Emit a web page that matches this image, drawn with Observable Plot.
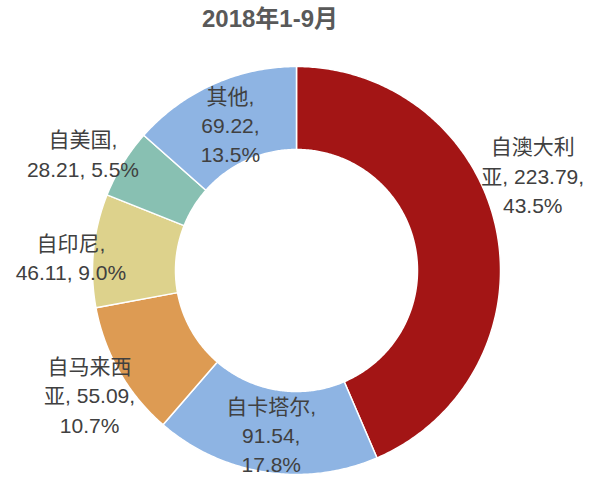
<!DOCTYPE html>
<html>
<head>
<meta charset="utf-8">
<script src="https://cdn.jsdelivr.net/npm/d3@7"></script>
<script src="https://cdn.jsdelivr.net/npm/@observablehq/plot@0.6"></script>
<style>
  html, body { margin: 0; padding: 0; background: #fff; }
  #title { width: 540px; height: 40px; line-height: 38px; text-align: center;
    font-family: "Liberation Sans", "Noto Sans CJK SC", sans-serif; font-weight: bold;
    font-size: 24px; color: #595959; }
  #chart svg { display: block; }
</style>
</head>
<body>
<div id="title">2018年1-9月</div>
<div id="chart"></div>
<script>
// ---- data ----
const sources = ["自澳大利亚", "自卡塔尔", "自马来西亚", "自印尼", "自美国", "其他"];
const values = [223.79, 91.54, 55.09, 46.11, 28.21, 69.22];
const colors = ["#A31515", "#8EB4E3", "#DD9B53", "#DDD28C", "#88C0B2", "#8EB4E3"];

// ---- layout ----
const W = 594, H = 437;
const cx = 296, cy = 230;           // donut centre in SVG pixels
const outerR = 204, innerR = 121;
const labelRadius = [255, 165, 241, 226, 244, 161];
const labelShiftDeg = [-10.5, 0, -1, -2, -2.7, 0];
const wrapMode = ["A", "B", "A", "C", "C", "B"];

const total = d3.sum(values);
const pie = d3.pie().sort(null).value(d => d)(values);

// polygon points for each slice
const pts = [];
pie.forEach((s, i) => {
  const a0 = s.startAngle, a1 = s.endAngle;
  const n = Math.max(8, Math.ceil((a1 - a0) / 0.01));
  for (let k = 0; k <= n; k++) {
    const a = a0 + (a1 - a0) * k / n;
    pts.push({name: sources[i], x: outerR * Math.sin(a), y: outerR * Math.cos(a)});
  }
  for (let k = n; k >= 0; k--) {
    const a = a0 + (a1 - a0) * k / n;
    pts.push({name: sources[i], x: innerR * Math.sin(a), y: innerR * Math.cos(a)});
  }
  const a = a0;
  pts.push({name: sources[i], x: outerR * Math.sin(a), y: outerR * Math.cos(a)});
});

function labelText(i) {
  const name = sources[i], v = values[i].toFixed(2), p = (values[i] / total * 100).toFixed(1) + "%";
  if (wrapMode[i] === "A") return name.slice(0, 4) + "\n" + name.slice(4) + ", " + v + ",\n" + p;
  if (wrapMode[i] === "B") return name + ",\n" + v + ",\n" + p;
  return name + ",\n" + v + ", " + p;
}
const labels = pie.map((s, i) => {
  const mid = (s.startAngle + s.endAngle) / 2 + labelShiftDeg[i] * Math.PI / 180;
  return {x: labelRadius[i] * Math.sin(mid), y: labelRadius[i] * Math.cos(mid), text: labelText(i)};
});

const chart = Plot.plot({
  width: W, height: H,
  margin: 0,
  x: {domain: [-cx, W - cx], axis: null},
  y: {domain: [-(H - cy), cy], axis: null},
  color: {type: "ordinal", domain: sources, range: colors},
  style: {background: "#fff"},
  marks: [
    Plot.line(pts, {x: "x", y: "y", z: "name", fill: "name", stroke: "#fff", strokeWidth: 1.5, strokeLinejoin: "round"}),
    Plot.text(labels, {x: "x", y: "y", text: "text", fontSize: 21, lineHeight: 1.4,
      lineAnchor: "middle", textAnchor: "middle", fill: "#404040",
      fontFamily: "'Liberation Sans', 'Noto Sans CJK SC', sans-serif"})
  ]
});
document.getElementById("chart").appendChild(chart);
</script>
</body>
</html>
